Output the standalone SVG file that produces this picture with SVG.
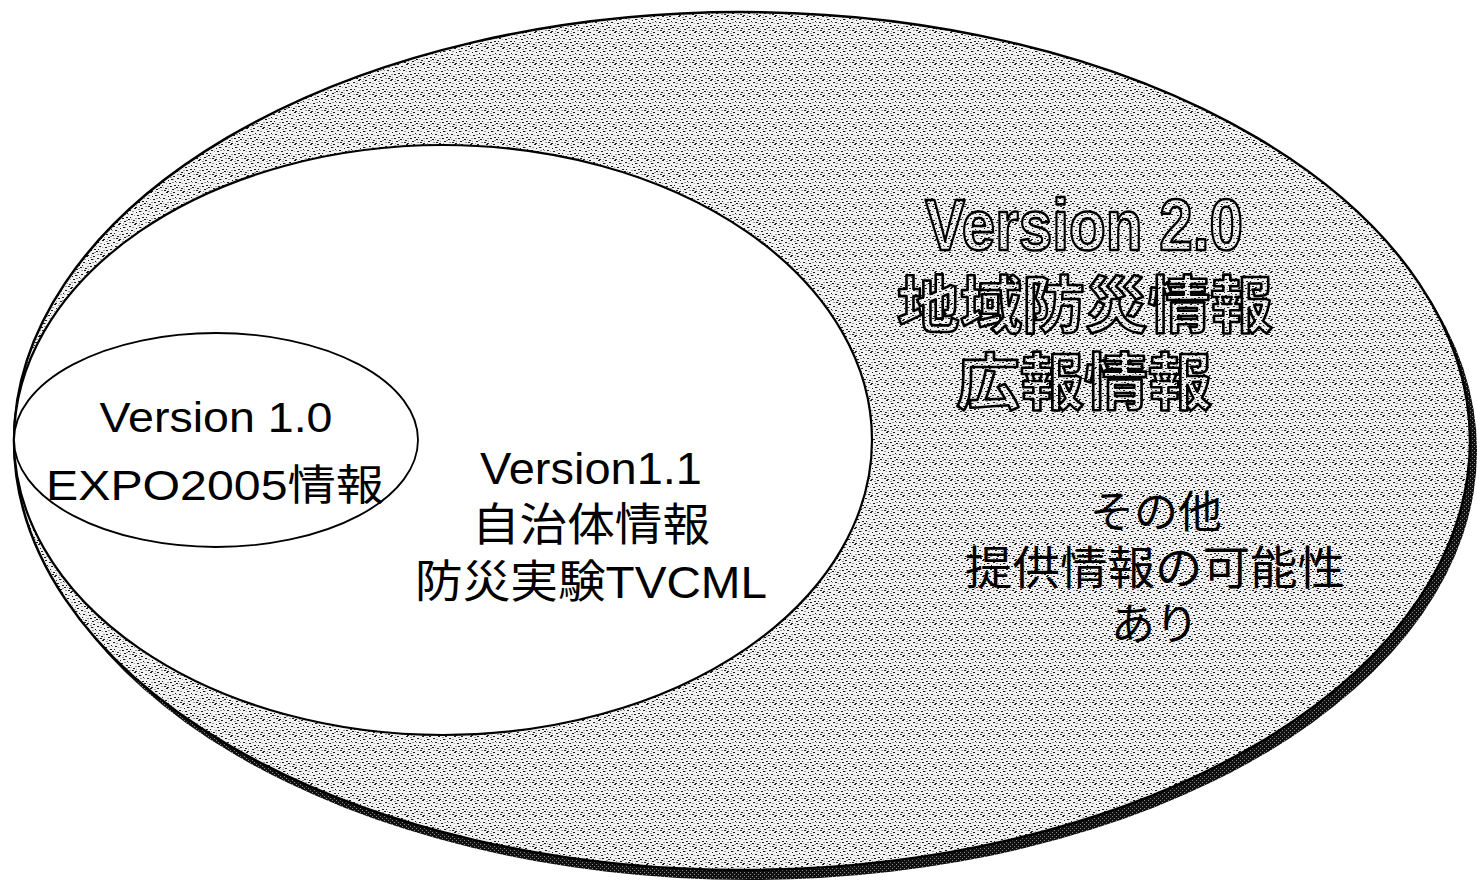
<svg xmlns="http://www.w3.org/2000/svg" width="1477" height="884" viewBox="0 0 1477 884">
<style>
.t{font-family:"Liberation Sans","Noto Sans CJK JP",sans-serif;fill:#000;text-anchor:middle}
.big{font-family:"Liberation Sans","Noto Sans CJK JP",sans-serif;fill:url(#stip);stroke:#000;stroke-width:2.6;stroke-linejoin:round;text-anchor:middle;font-weight:bold}
.ol{stroke:#000}
</style>
<defs>
<pattern id="stip" width="16" height="16" patternUnits="userSpaceOnUse">
<rect width="16" height="16" fill="#f2f2f2"/>
<path fill="#999" d="M4 3h2v1h-2zM12 6h2v1h-2zM1 14h2v1h-2zM7 10h2v1h-2zM10 1h2v1h-2zM14 12h2v1h-2zM0 6h1v1h-1zM6 7h1v1h-1zM11 15h1v1h-1zM3 11h1v1h-1zM13 3h1v1h-1zM8 13h1v1h-1z"/>
<path fill="#1a1a1a" d="M1 2h2v1h-2zM6 0h2v1h-2zM11 3h2v1h-2zM3 6h2v1h-2zM9 7h2v1h-2zM14 9h2v1h-2zM0 11h2v1h-2zM5 12h2v1h-2zM12 13h2v1h-2zM7 15h2v1h-2zM2 9h1v1h-1zM10 10h2v1h-2zM13 0h2v1h-2zM8 4h1v1h-1zM4 14h2v1h-2zM15 5h1v1h-1z"/>
</pattern>
<pattern id="hatch" width="4" height="4" patternUnits="userSpaceOnUse">
<rect width="4" height="4" fill="#111"/>
<path d="M0 0h1v1h-1zM2 2h1v1h-1z" fill="#888"/>
</pattern>
</defs>
<g id="version2">
<ellipse cx="749" cy="451" rx="728" ry="429" fill="url(#hatch)"/>
<ellipse cx="742" cy="441" rx="728" ry="429" fill="url(#stip)" class="ol" stroke-width="2.5"/>
<text class="big" x="1084" y="250" font-size="72" textLength="318" lengthAdjust="spacingAndGlyphs">Version 2.0</text>
<text class="big" x="1085" y="328" font-size="62" textLength="376" lengthAdjust="spacingAndGlyphs">地域防災情報</text>
<text class="big" x="1084" y="405" font-size="62" textLength="256" lengthAdjust="spacingAndGlyphs">広報情報</text>
<text class="t" x="1156" y="528" font-size="44">その他</text>
<text class="t" x="1155" y="584" font-size="46" textLength="380" lengthAdjust="spacingAndGlyphs">提供情報の可能性</text>
<text class="t" x="1155" y="640" font-size="44">あり</text>
</g>
<g id="version11">
<ellipse cx="443" cy="440" rx="429" ry="295" fill="#fff" class="ol" stroke-width="2.2"/>
<text class="t" x="591" y="484" font-size="45" textLength="222" lengthAdjust="spacingAndGlyphs">Version1.1</text>
<text class="t" x="591" y="541" font-size="45" textLength="238" lengthAdjust="spacingAndGlyphs">自治体情報</text>
<text class="t" x="591" y="598" font-size="45" textLength="352" lengthAdjust="spacingAndGlyphs">防災実験TVCML</text>
</g>
<g id="version10">
<ellipse cx="216" cy="440" rx="202" ry="107" fill="#fff" class="ol" stroke-width="1.8"/>
<text class="t" x="216" y="432" font-size="42" textLength="233" lengthAdjust="spacingAndGlyphs">Version 1.0</text>
<text class="t" x="215" y="500" font-size="42" textLength="338" lengthAdjust="spacingAndGlyphs">EXPO2005情報</text>
</g>
<g id="connectors"/>
</svg>
